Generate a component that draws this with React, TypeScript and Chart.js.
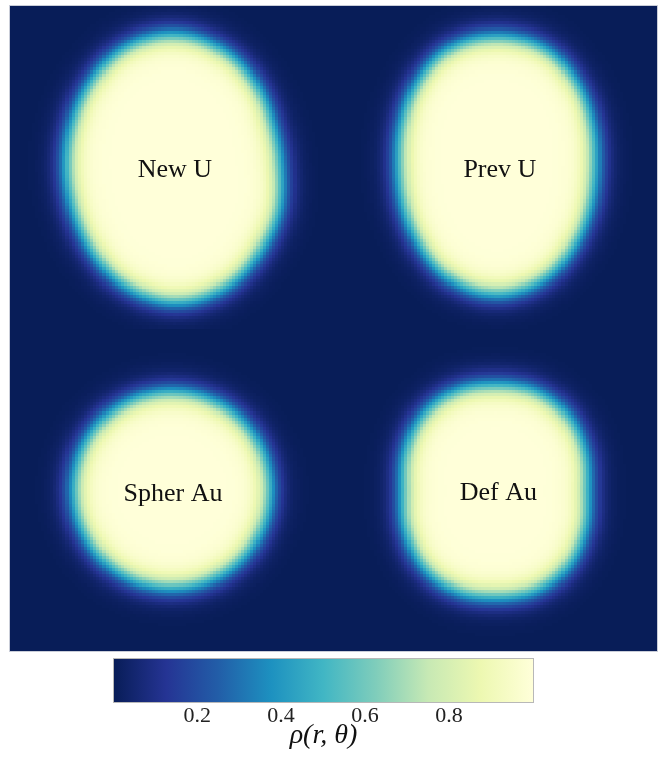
import React, { useEffect, useRef } from "react";
import { Chart, registerables } from "chart.js";

Chart.register(...registerables);

// ---------------- data (lengths in fm) ----------------
const NUCLEI = ["New U", "Prev U", "Spher Au", "Def Au"];
const PANEL_X_MIN = [-10.5, 10.5, -10.5, 10.5];
const PANEL_X_MAX = [10.5, 31.5, 10.5, 31.5];
const PANEL_Y_MIN = [-10.5, -10.5, -31.5, -31.5];
const PANEL_Y_MAX = [10.5, 10.5, -10.5, -10.5];
const CENTER_X = [0.18, 21.11, 0.0, 21.0];
const CENTER_Y = [-0.08, 0.08, -21.0, -21.08];
// half-density radius sampled every 22.5 degrees (0 = right, 90 = up)
const SURFACE_ANGLES_DEG = [0, 22.5, 45, 67.5, 90, 112.5, 135, 157.5, 180, 202.5, 225, 247.5, 270, 292.5, 315, 337.5];
const NEW_U_RADIUS = [6.86, 6.92, 7.54, 8.26, 8.68, 8.45, 7.77, 7.22, 6.99, 7.09, 7.57, 8.26, 8.68, 8.39, 7.74, 7.28];
const PREV_U_RADIUS = [6.37, 6.7, 7.41, 8.19, 8.39, 8.19, 7.41, 6.7, 6.37, 6.57, 7.15, 7.93, 8.32, 7.93, 7.15, 6.57];
const SPHER_AU_RADIUS = [6.36, 6.36, 6.36, 6.36, 6.36, 6.36, 6.36, 6.36, 6.36, 6.36, 6.36, 6.36, 6.36, 6.36, 6.36, 6.36];
const DEF_AU_RADIUS = [5.98, 6.3, 6.74, 6.95, 6.89, 6.95, 6.74, 6.3, 5.98, 6.3, 6.74, 6.95, 6.89, 6.95, 6.74, 6.3];
const DIFFUSENESS = [0.45, 0.45, 0.45, 0.45];
const LABEL_X = [0.2, 21.3, 0.08, 21.2];
const LABEL_Y = [-0.63, -0.63, -21.73, -21.67];
const CELL = 0.2;
const COLORBAR_TICKS = [0.2, 0.4, 0.6, 0.8];
const COLORBAR_MIN = 0.002;
const COLORBAR_MAX = 1.0;
const YLGNBU_R = ["#081d58", "#253494", "#225ea8", "#1d91c0", "#41b6c4", "#7fcdbb", "#c7e9b4", "#edf8b1", "#ffffd9"];

const RADIUS_TABLES = [NEW_U_RADIUS, PREV_U_RADIUS, SPHER_AU_RADIUS, DEF_AU_RADIUS];

function hexToRgb(h: string) {
  return [parseInt(h.slice(1, 3), 16), parseInt(h.slice(3, 5), 16), parseInt(h.slice(5, 7), 16)];
}
const STOPS = YLGNBU_R.map(hexToRgb);
const LUT: string[] = [];
for (let i = 0; i < 256; i++) {
  const t = (i / 255) * (STOPS.length - 1);
  const k = Math.min(Math.floor(t), STOPS.length - 2);
  const f = t - k;
  const a = STOPS[k], b = STOPS[k + 1];
  LUT.push(`rgb(${Math.round(a[0] + (b[0] - a[0]) * f)},${Math.round(a[1] + (b[1] - a[1]) * f)},${Math.round(a[2] + (b[2] - a[2]) * f)})`);
}
function colorFor(v: number) {
  let t = (v - COLORBAR_MIN) / (COLORBAR_MAX - COLORBAR_MIN);
  t = Math.max(0, Math.min(1, t));
  return LUT[Math.round(t * 255)];
}

function radiusAt(table: number[], phiDeg: number) {
  const n = table.length;
  const step = SURFACE_ANGLES_DEG[1] - SURFACE_ANGLES_DEG[0];
  const p = (((phiDeg - SURFACE_ANGLES_DEG[0]) % 360) + 360) % 360;
  const t = p / step;
  const i = Math.floor(t);
  const f = t - i;
  const p0 = table[(i - 1 + n) % n], p1 = table[i % n], p2 = table[(i + 1) % n], p3 = table[(i + 2) % n];
  return 0.5 * (2 * p1 + (-p0 + p2) * f + (2 * p0 - 5 * p1 + 4 * p2 - p3) * f * f + (-p0 + 3 * p1 - 3 * p2 + p3) * f * f * f);
}

type Cell = { x: number; y: number; v: number; i: number; j: number };

const X_MIN = PANEL_X_MIN[0];
const X_MAX = PANEL_X_MAX[1];
const Y_MIN = PANEL_Y_MIN[2];
const Y_MAX = PANEL_Y_MAX[0];

function buildCells() {
  const cells: Cell[] = [];
  for (let k = 0; k < NUCLEI.length; k++) {
    const nx = Math.round((PANEL_X_MAX[k] - PANEL_X_MIN[k]) / CELL);
    const ny = Math.round((PANEL_Y_MAX[k] - PANEL_Y_MIN[k]) / CELL);
    const i0 = Math.round((PANEL_X_MIN[k] - X_MIN) / CELL);
    const j0 = Math.round((PANEL_Y_MIN[k] - Y_MIN) / CELL);
    for (let ix = 0; ix < nx; ix++) {
      for (let iy = 0; iy < ny; iy++) {
        const i = i0 + ix;
        const j = j0 + iy;
        const x = X_MIN + (i + 0.5) * CELL;
        const y = Y_MIN + (j + 0.5) * CELL;
        const dx = x - CENTER_X[k];
        const dy = y - CENTER_Y[k];
        const r = Math.hypot(dx, dy);
        const phi = (Math.atan2(dy, dx) * 180) / Math.PI;
        const R = radiusAt(RADIUS_TABLES[k], phi);
        const v = 1 / (1 + Math.exp((r - R) / DIFFUSENESS[k]));
        cells.push({ x, y, v, i, j });
      }
    }
  }
  return cells;
}

const heatmapPlugin = {
  id: "heatmapCells",
  beforeDatasetsDraw(chart: any) {
    const { ctx, scales } = chart;
    const xs = scales.x, ys = scales.y;
    const data = chart.data.datasets[0].data as Cell[];
    ctx.save();
    for (const c of data) {
      const x0 = Math.round(xs.getPixelForValue(X_MIN + c.i * CELL));
      const x1 = Math.round(xs.getPixelForValue(X_MIN + (c.i + 1) * CELL));
      const y0 = Math.round(ys.getPixelForValue(Y_MIN + (c.j + 1) * CELL));
      const y1 = Math.round(ys.getPixelForValue(Y_MIN + c.j * CELL));
      ctx.fillStyle = colorFor(c.v);
      ctx.fillRect(x0, y0, x1 - x0, y1 - y0);
    }
    ctx.restore();
  },
  afterDatasetsDraw(chart: any) {
    const { ctx, scales, chartArea } = chart;
    ctx.save();
    ctx.fillStyle = "#111111";
    ctx.font = '26px "Liberation Serif", serif';
    ctx.textAlign = "center";
    ctx.textBaseline = "alphabetic";
    for (let k = 0; k < NUCLEI.length; k++) {
      ctx.fillText(NUCLEI[k], scales.x.getPixelForValue(LABEL_X[k]), scales.y.getPixelForValue(LABEL_Y[k]));
    }
    ctx.strokeStyle = "#c9cdd8";
    ctx.lineWidth = 1;
    ctx.strokeRect(chartArea.left - 0.5, chartArea.top - 0.5, chartArea.right - chartArea.left + 1, chartArea.bottom - chartArea.top + 1);
    ctx.restore();
  },
};

const colorbarPlugin = {
  id: "colorbarFill",
  beforeDatasetsDraw(chart: any) {
    const { ctx, chartArea, scales } = chart;
    const x0 = scales.x.getPixelForValue(COLORBAR_MIN);
    const x1 = scales.x.getPixelForValue(COLORBAR_MAX);
    const g = ctx.createLinearGradient(x0, 0, x1, 0);
    YLGNBU_R.forEach((c, i) => g.addColorStop(i / (YLGNBU_R.length - 1), c));
    ctx.save();
    ctx.fillStyle = g;
    ctx.fillRect(chartArea.left, chartArea.top, chartArea.right - chartArea.left, chartArea.bottom - chartArea.top);
    ctx.strokeStyle = "#b8b8b8";
    ctx.lineWidth = 1;
    ctx.strokeRect(chartArea.left - 0.5, chartArea.top - 0.5, chartArea.right - chartArea.left + 1, chartArea.bottom - chartArea.top + 1);
    ctx.restore();
  },
};

export default function App() {
  const mainRef = useRef<HTMLCanvasElement | null>(null);
  const barRef = useRef<HTMLCanvasElement | null>(null);

  useEffect(() => {
    if (!mainRef.current || !barRef.current) return;
    const cells = buildCells();
    const main = new Chart(mainRef.current, {
      type: "scatter",
      data: { datasets: [{ data: cells as any, pointRadius: 0, pointHoverRadius: 0 }] },
      options: {
        animation: false,
        responsive: false,
        events: [],
        parsing: false,
        normalized: true,
        layout: { padding: { left: 10, top: 6, right: 7, bottom: 7 } },
        plugins: { legend: { display: false }, tooltip: { enabled: false } },
        scales: {
          x: { type: "linear", display: false, min: X_MIN, max: X_MAX },
          y: { type: "linear", display: false, min: Y_MIN, max: Y_MAX },
        },
      } as any,
      plugins: [heatmapPlugin],
    });

    const bar = new Chart(barRef.current, {
      type: "scatter",
      data: { datasets: [{ data: [], pointRadius: 0 }] },
      options: {
        animation: false,
        responsive: false,
        events: [],
        layout: { padding: { left: 114, top: 7, right: 131, bottom: 0 } },
        plugins: { legend: { display: false }, tooltip: { enabled: false } },
        scales: {
          x: {
            type: "linear",
            min: COLORBAR_MIN,
            max: COLORBAR_MAX,
            grid: { display: false, drawTicks: false },
            border: { display: false },
            afterBuildTicks: (s: any) => {
              s.ticks = COLORBAR_TICKS.map((v) => ({ value: v }));
            },
            afterFit: (s: any) => {
              s.height = 56;
            },
            ticks: {
              padding: 1,
              color: "#222222",
              font: { family: '"Liberation Serif", serif', size: 22 },
              callback: (v: any) => Number(v).toFixed(1),
            },
            title: {
              display: true,
              text: "ρ(r, θ)",
              color: "#111111",
              padding: { top: 0, bottom: 6 },
              font: { family: '"Liberation Serif", serif', size: 28, style: "italic" },
            },
          },
          y: { display: false, min: 0, max: 1 },
        },
      } as any,
      plugins: [colorbarPlugin],
    });

    return () => {
      main.destroy();
      bar.destroy();
    };
  }, []);

  return (
    <div style={{ position: "absolute", left: 0, top: 0, width: 664, height: 758, background: "#ffffff" }}>
      <canvas ref={mainRef} width={664} height={658} style={{ position: "absolute", left: 0, top: 0, width: 664, height: 658 }} />
      <canvas ref={barRef} width={664} height={106} style={{ position: "absolute", left: 0, top: 652, width: 664, height: 106 }} />
    </div>
  );
}
